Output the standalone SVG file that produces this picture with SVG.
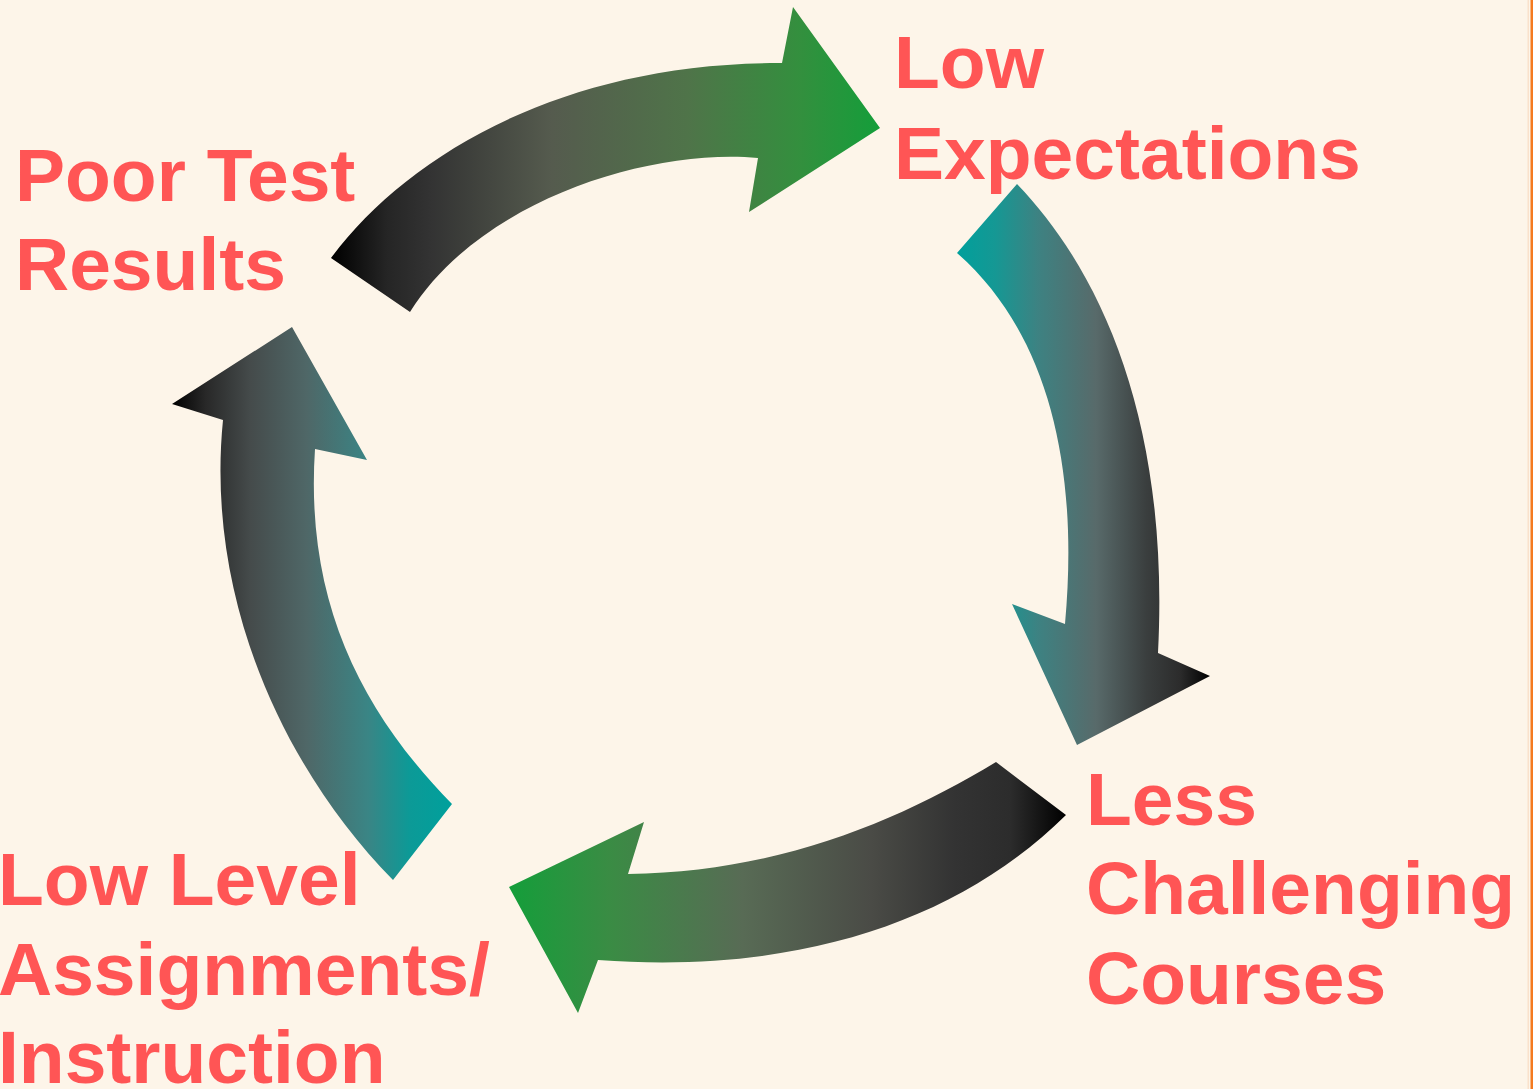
<svg xmlns="http://www.w3.org/2000/svg" width="1533" height="1089" viewBox="0 0 1533 1089">
  <defs>
    <style>
      .lbl { font-family: "Liberation Sans", Arial, sans-serif; font-weight: bold; font-size: 75px; fill: #ff5555; }
    </style>
    <linearGradient id="gTop" gradientUnits="userSpaceOnUse" x1="332" y1="0" x2="880" y2="0">
      <stop offset="0" stop-color="#000000"/>
      <stop offset="0.1" stop-color="#252525"/>
      <stop offset="0.18" stop-color="#333333"/>
      <stop offset="0.4" stop-color="#555b4e"/>
      <stop offset="0.65" stop-color="#4f7449"/>
      <stop offset="0.85" stop-color="#348f3e"/>
      <stop offset="1" stop-color="#149e3a"/>
    </linearGradient>
    <linearGradient id="gRight" gradientUnits="userSpaceOnUse" x1="957" y1="0" x2="1210" y2="0">
      <stop offset="0" stop-color="#00a09c"/>
      <stop offset="0.15" stop-color="#159894"/>
      <stop offset="0.32" stop-color="#3d8282"/>
      <stop offset="0.55" stop-color="#586a6a"/>
      <stop offset="0.75" stop-color="#3a3e3e"/>
      <stop offset="0.88" stop-color="#2c2c2c"/>
      <stop offset="1" stop-color="#000000"/>
    </linearGradient>
    <linearGradient id="gBottom" gradientUnits="userSpaceOnUse" x1="509" y1="0" x2="1066" y2="0">
      <stop offset="0" stop-color="#149e3a"/>
      <stop offset="0.18" stop-color="#3a8c44"/>
      <stop offset="0.42" stop-color="#586b55"/>
      <stop offset="0.65" stop-color="#4a4b46"/>
      <stop offset="0.8" stop-color="#333333"/>
      <stop offset="0.9" stop-color="#2c2c2c"/>
      <stop offset="1" stop-color="#000000"/>
    </linearGradient>
    <linearGradient id="gLeft" gradientUnits="userSpaceOnUse" x1="172" y1="0" x2="452" y2="0">
      <stop offset="0" stop-color="#000000"/>
      <stop offset="0.12" stop-color="#282828"/>
      <stop offset="0.28" stop-color="#454b4b"/>
      <stop offset="0.48" stop-color="#4f6767"/>
      <stop offset="0.7" stop-color="#3a8585"/>
      <stop offset="0.85" stop-color="#0c9a97"/>
      <stop offset="1" stop-color="#00a09c"/>
    </linearGradient>
  </defs>

  <rect x="0" y="0" width="1533" height="1089" fill="#fdf5e9"/>
  <rect x="1527.5" y="0" width="1.5" height="1089" fill="#f9e2cc"/>
  <rect x="1530.5" y="0" width="2.5" height="1089" fill="#f47a20"/>

  <g id="connectors">
    <path id="arrow-top" fill="url(#gTop)" d="M 331 258 C 405 158, 560 62, 782 63 L 793 7 L 880 128 L 749 212 L 758 158 C 650 148, 480 200, 410 312 Z"/>
    <path id="arrow-right" fill="url(#gRight)" d="M 1017 184 C 1100 270, 1170 420, 1158 653 L 1210 676 L 1077 745 L 1012 604 L 1065 624 C 1080 460, 1045 330, 957 253 Z"/>
    <path id="arrow-bottom" fill="url(#gBottom)" d="M 996 762 C 900 820, 780 872, 628 874 L 644 822 L 509 887 L 578 1013 L 598 960 C 800 975, 960 920, 1066 815 Z"/>
    <path id="arrow-left" fill="url(#gLeft)" d="M 393 880 C 285 770, 205 600, 223 420 L 172 404 L 292 327 L 367 460 L 315 449 C 305 600, 360 710, 452 804 Z"/>
  </g>

  <g id="node-poor-test-results">
    <text class="lbl" x="15" y="201">Poor Test</text>
    <text class="lbl" x="15" y="290">Results</text>
  </g>
  <g id="node-low-expectations">
    <text class="lbl" x="894" y="88">Low</text>
    <text class="lbl" x="894" y="179">Expectations</text>
  </g>
  <g id="node-less-challenging-courses">
    <text class="lbl" x="1086" y="825">Less</text>
    <text class="lbl" x="1086" y="914">Challenging</text>
    <text class="lbl" x="1086" y="1004">Courses</text>
  </g>
  <g id="node-low-level-assignments">
    <text class="lbl" x="-2" y="905">Low Level</text>
    <text class="lbl" x="-2" y="995">Assignments/</text>
    <text class="lbl" x="-2" y="1083">Instruction</text>
  </g>
</svg>
